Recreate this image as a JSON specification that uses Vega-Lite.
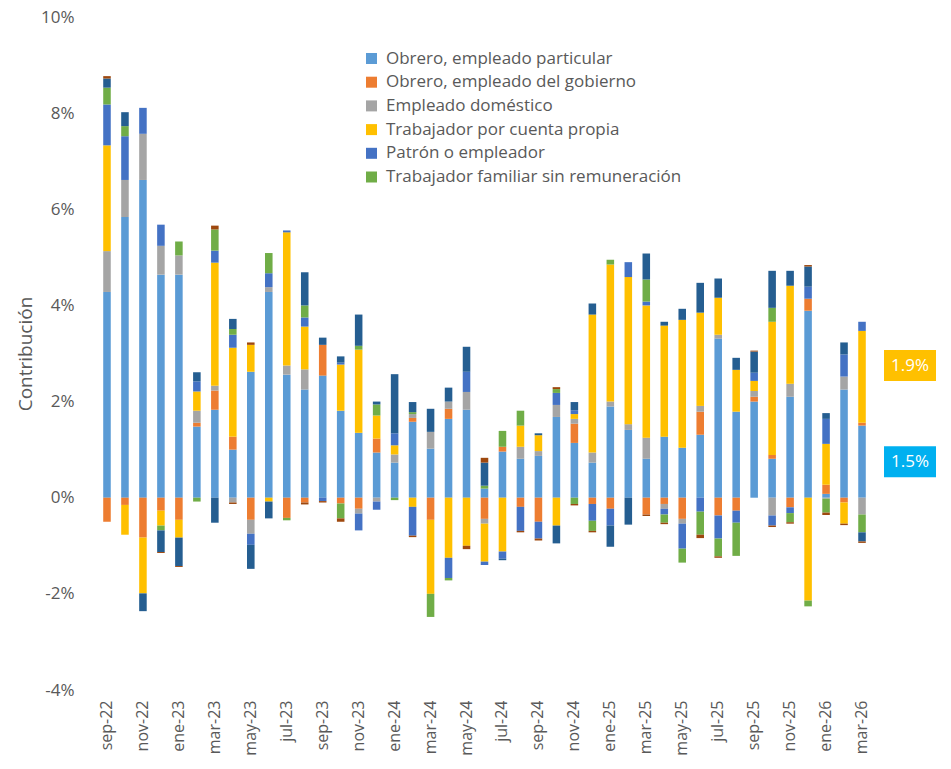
{
  "$schema": "https://vega.github.io/schema/vega-lite/v6.json",
  "width": 773,
  "height": 673,
  "autosize": {"type": "none"},
  "padding": {"left": 98, "top": 17, "right": 80, "bottom": 79},
  "background": "white",
  "config": {"view": {"stroke": null}, "font": "Open Sans"},
  "datasets": {
    "bars": [
      {"m": "sep-22", "s1": 4.28, "s2": -0.5, "s3": 0.85, "s4": 2.2, "s5": 0.85, "s6": 0.35, "s7": 0.19, "s8": 0.05},
      {"m": "oct-22", "s1": 5.84, "s2": -0.15, "s3": 0.77, "s4": -0.62, "s5": 0.91, "s6": 0.21, "s7": 0.29, "s8": 0},
      {"m": "nov-22", "s1": 6.61, "s2": -0.83, "s3": 0.96, "s4": -1.16, "s5": 0.54, "s6": 0, "s7": -0.37, "s8": 0},
      {"m": "dic-22", "s1": 4.64, "s2": -0.27, "s3": 0.6, "s4": -0.31, "s5": 0.44, "s6": -0.1, "s7": -0.45, "s8": -0.02},
      {"m": "ene-23", "s1": 4.64, "s2": -0.46, "s3": 0.4, "s4": -0.37, "s5": 0, "s6": 0.29, "s7": -0.59, "s8": -0.02},
      {"m": "feb-23", "s1": 1.48, "s2": 0.08, "s3": 0.25, "s4": 0.4, "s5": 0.21, "s6": -0.08, "s7": 0.19, "s8": 0},
      {"m": "mar-23", "s1": 1.83, "s2": 0.4, "s3": 0.1, "s4": 2.56, "s5": 0.25, "s6": 0.44, "s7": -0.52, "s8": 0.08},
      {"m": "abr-23", "s1": 1.0, "s2": 0.27, "s3": -0.1, "s4": 1.85, "s5": 0.27, "s6": 0.12, "s7": 0.21, "s8": -0.03},
      {"m": "may-23", "s1": 2.62, "s2": -0.46, "s3": -0.29, "s4": 0.56, "s5": -0.23, "s6": 0, "s7": -0.5, "s8": 0.05},
      {"m": "jun-23", "s1": 4.28, "s2": 0, "s3": 0.1, "s4": -0.08, "s5": 0.29, "s6": 0.42, "s7": -0.35, "s8": 0},
      {"m": "jul-23", "s1": 2.56, "s2": -0.42, "s3": 0.19, "s4": 2.77, "s5": 0.04, "s6": -0.05, "s7": 0, "s8": 0},
      {"m": "ago-23", "s1": 2.25, "s2": -0.1, "s3": 0.42, "s4": 0.89, "s5": 0.19, "s6": 0.25, "s7": 0.69, "s8": -0.04},
      {"m": "sep-23", "s1": 2.54, "s2": 0.64, "s3": 0, "s4": 0, "s5": -0.07, "s6": 0, "s7": 0.15, "s8": -0.03},
      {"m": "oct-23", "s1": 1.81, "s2": -0.12, "s3": 0, "s4": 0.96, "s5": 0.04, "s6": -0.31, "s7": 0.13, "s8": -0.07},
      {"m": "nov-23", "s1": 1.35, "s2": -0.23, "s3": -0.1, "s4": 1.73, "s5": -0.35, "s6": 0.08, "s7": 0.65, "s8": 0},
      {"m": "dic-23", "s1": 0.94, "s2": 0.29, "s3": -0.08, "s4": 0.48, "s5": -0.17, "s6": 0.23, "s7": 0.06, "s8": 0},
      {"m": "ene-24", "s1": 0.73, "s2": 0, "s3": 0.17, "s4": 0.19, "s5": 0.25, "s6": -0.05, "s7": 1.23, "s8": 0},
      {"m": "feb-24", "s1": 1.58, "s2": 0.08, "s3": 0.08, "s4": -0.19, "s5": -0.6, "s6": 0.04, "s7": 0.21, "s8": -0.03},
      {"m": "mar-24", "s1": 1.02, "s2": -0.46, "s3": 0.35, "s4": -1.54, "s5": 0, "s6": -0.48, "s7": 0.48, "s8": 0},
      {"m": "abr-24", "s1": 1.64, "s2": 0.21, "s3": 0.15, "s4": -1.25, "s5": -0.42, "s6": -0.05, "s7": 0.29, "s8": 0},
      {"m": "may-24", "s1": 1.83, "s2": 0, "s3": 0.37, "s4": -1.0, "s5": 0.42, "s6": 0, "s7": 0.52, "s8": -0.07},
      {"m": "jun-24", "s1": 0.19, "s2": -0.44, "s3": -0.1, "s4": -0.79, "s5": -0.07, "s6": 0.06, "s7": 0.48, "s8": 0.1},
      {"m": "jul-24", "s1": 0.96, "s2": 0.1, "s3": 0, "s4": -1.12, "s5": -0.15, "s6": 0.33, "s7": -0.03, "s8": 0},
      {"m": "ago-24", "s1": 0.81, "s2": -0.19, "s3": 0.25, "s4": 0.44, "s5": -0.5, "s6": 0.31, "s7": 0, "s8": -0.03},
      {"m": "sep-24", "s1": 0.87, "s2": -0.5, "s3": 0.1, "s4": 0.33, "s5": -0.35, "s6": 0, "s7": 0.04, "s8": -0.04},
      {"m": "oct-24", "s1": 1.68, "s2": 0, "s3": 0.25, "s4": -0.58, "s5": 0.25, "s6": 0.08, "s7": -0.37, "s8": 0.04},
      {"m": "nov-24", "s1": 1.14, "s2": 0.4, "s3": 0.1, "s4": 0.1, "s5": 0.08, "s6": -0.13, "s7": 0.17, "s8": -0.03},
      {"m": "dic-24", "s1": 0.73, "s2": -0.13, "s3": 0.21, "s4": 2.87, "s5": -0.35, "s6": -0.21, "s7": 0.23, "s8": -0.03},
      {"m": "ene-25", "s1": 1.9, "s2": -0.23, "s3": 0.1, "s4": 2.85, "s5": -0.35, "s6": 0.1, "s7": -0.44, "s8": 0},
      {"m": "feb-25", "s1": 1.41, "s2": 0, "s3": 0.12, "s4": 3.06, "s5": 0.31, "s6": 0, "s7": -0.56, "s8": 0},
      {"m": "mar-25", "s1": 0.81, "s2": -0.35, "s3": 0.44, "s4": 2.75, "s5": 0.08, "s6": 0.46, "s7": 0.54, "s8": -0.03},
      {"m": "abr-25", "s1": 1.27, "s2": -0.13, "s3": -0.1, "s4": 2.31, "s5": -0.12, "s6": -0.17, "s7": 0.08, "s8": -0.03},
      {"m": "may-25", "s1": 1.04, "s2": -0.44, "s3": -0.1, "s4": 2.66, "s5": -0.52, "s6": -0.29, "s7": 0.23, "s8": 0},
      {"m": "jun-25", "s1": 1.31, "s2": 0.48, "s3": 0.12, "s4": 1.94, "s5": -0.29, "s6": -0.48, "s7": 0.62, "s8": -0.07},
      {"m": "jul-25", "s1": 3.31, "s2": -0.37, "s3": 0.08, "s4": 0.77, "s5": -0.48, "s6": -0.37, "s7": 0.4, "s8": -0.03},
      {"m": "ago-25", "s1": 1.79, "s2": -0.27, "s3": 0, "s4": 0.87, "s5": -0.25, "s6": -0.69, "s7": 0.25, "s8": 0},
      {"m": "sep-25", "s1": 2.0, "s2": 0.1, "s3": 0.12, "s4": 0.21, "s5": 0.17, "s6": 0, "s7": 0.44, "s8": 0.02},
      {"m": "oct-25", "s1": 0.81, "s2": 0.08, "s3": -0.37, "s4": 2.77, "s5": -0.21, "s6": 0.29, "s7": 0.77, "s8": -0.03},
      {"m": "nov-25", "s1": 2.1, "s2": -0.2, "s3": 0.27, "s4": 2.04, "s5": -0.12, "s6": -0.19, "s7": 0.31, "s8": -0.03},
      {"m": "dic-25", "s1": 3.89, "s2": 0.25, "s3": 0, "s4": -2.14, "s5": 0.25, "s6": -0.12, "s7": 0.42, "s8": 0.03},
      {"m": "ene-26", "s1": 0.08, "s2": 0.19, "s3": -0.02, "s4": 0.85, "s5": 0.52, "s6": -0.29, "s7": 0.12, "s8": -0.05},
      {"m": "feb-26", "s1": 2.25, "s2": -0.1, "s3": 0.27, "s4": -0.44, "s5": 0.46, "s6": 0, "s7": 0.25, "s8": -0.03},
      {"m": "mar-26", "s1": 1.5, "s2": 0.06, "s3": -0.35, "s4": 1.91, "s5": 0.19, "s6": -0.37, "s7": -0.19, "s8": -0.03}
    ],
    "names": [
      {"key": "s1", "name": "Obrero, empleado particular"},
      {"key": "s2", "name": "Obrero, empleado del gobierno"},
      {"key": "s3", "name": "Empleado doméstico"},
      {"key": "s4", "name": "Trabajador por cuenta propia"},
      {"key": "s5", "name": "Patrón o empleador"},
      {"key": "s6", "name": "Trabajador familiar sin remuneración"},
      {"key": "s7", "name": "Jornalero o peón"},
      {"key": "s8", "name": "Otro"}
    ],
    "notes": [
      {"m": "mar-26", "pos": 2.75, "label": "1.9%", "kind": "cuenta propia"},
      {"m": "mar-26", "pos": 0.75, "label": "1.5%", "kind": "particular"}
    ]
  },
  "layer": [
    {
      "data": {"name": "bars"},
      "transform": [
        {"fold": ["s1", "s2", "s3", "s4", "s5", "s6", "s7", "s8"], "as": ["key", "v"]},
        {"lookup": "key", "from": {"data": {"name": "names"}, "key": "key", "fields": ["name"]}}
      ],
      "mark": {"type": "bar"},
      "encoding": {
        "x": {
          "field": "m", "type": "nominal", "sort": null,
          "scale": {"paddingInner": 0.58, "paddingOuter": 0.29},
          "axis": {
            "title": null, "domain": false, "ticks": false, "labelAngle": -90,
            "labelFontSize": 16, "labelColor": "#595959", "labelPadding": 10,
            "values": ["sep-22", "nov-22", "ene-23", "mar-23", "may-23", "jul-23", "sep-23", "nov-23", "ene-24", "mar-24", "may-24", "jul-24", "sep-24", "nov-24", "ene-25", "mar-25", "may-25", "jul-25", "sep-25", "nov-25", "ene-26", "mar-26"]
          }
        },
        "y": {
          "field": "v", "type": "quantitative", "stack": "zero",
          "scale": {"domain": [-4, 10], "nice": false},
          "axis": {
            "title": "Contribución", "titleFontSize": 19, "titleFontWeight": "normal", "titleColor": "#595959", "titlePadding": 5,
            "values": [-4, -2, 0, 2, 4, 6, 8, 10], "labelExpr": "datum.value + '%'",
            "labelFontSize": 17, "labelColor": "#595959", "labelPadding": 24,
            "domain": false, "ticks": false, "grid": false
          }
        },
        "color": {
          "field": "name", "type": "nominal",
          "scale": {
            "domain": ["Obrero, empleado particular", "Obrero, empleado del gobierno", "Empleado doméstico", "Trabajador por cuenta propia", "Patrón o empleador", "Trabajador familiar sin remuneración", "Jornalero o peón", "Otro"],
            "range": ["#5B9BD5", "#ED7D31", "#A5A5A5", "#FFC000", "#4472C4", "#70AD47", "#255E91", "#9E480E"]
          },
          "legend": {
            "values": ["Obrero, empleado particular", "Obrero, empleado del gobierno", "Empleado doméstico", "Trabajador por cuenta propia", "Patrón o empleador", "Trabajador familiar sin remuneración"],
            "title": null, "orient": "none", "legendX": 265, "legendY": 33, "padding": 0,
            "symbolType": "square", "symbolSize": 121, "symbolStrokeWidth": 0,
            "labelFontSize": 17, "labelColor": "#595959", "labelOffset": 6, "rowPadding": 5.7, "labelLimit": 400
          }
        },
        "order": {"field": "key", "sort": "ascending"}
      }
    },
    {
      "mark": {"type": "rule", "color": "#D9D9D9", "strokeWidth": 2},
      "encoding": {"y": {"datum": 0, "type": "quantitative"}}
    },
    {
      "data": {"name": "notes"},
      "transform": [{"filter": "datum.kind == 'cuenta propia'"}],
      "mark": {"type": "point", "shape": "M-1,-0.596H1V0.596H-1Z", "size": 2704, "filled": true, "opacity": 1, "color": "#FFC000", "xOffset": 48},
      "encoding": {
        "x": {"field": "m", "type": "nominal", "sort": null},
        "y": {"field": "pos", "type": "quantitative"}
      }
    },
    {
      "data": {"name": "notes"},
      "transform": [{"filter": "datum.kind == 'particular'"}],
      "mark": {"type": "point", "shape": "M-1,-0.596H1V0.596H-1Z", "size": 2704, "filled": true, "opacity": 1, "color": "#00B0F0", "xOffset": 48},
      "encoding": {
        "x": {"field": "m", "type": "nominal", "sort": null},
        "y": {"field": "pos", "type": "quantitative"}
      }
    },
    {
      "data": {"name": "notes"},
      "mark": {"type": "text", "color": "white", "fontSize": 17, "dx": 48, "align": "center", "baseline": "middle"},
      "encoding": {
        "x": {"field": "m", "type": "nominal", "sort": null},
        "y": {"field": "pos", "type": "quantitative"},
        "text": {"field": "label"}
      }
    }
  ]
}
